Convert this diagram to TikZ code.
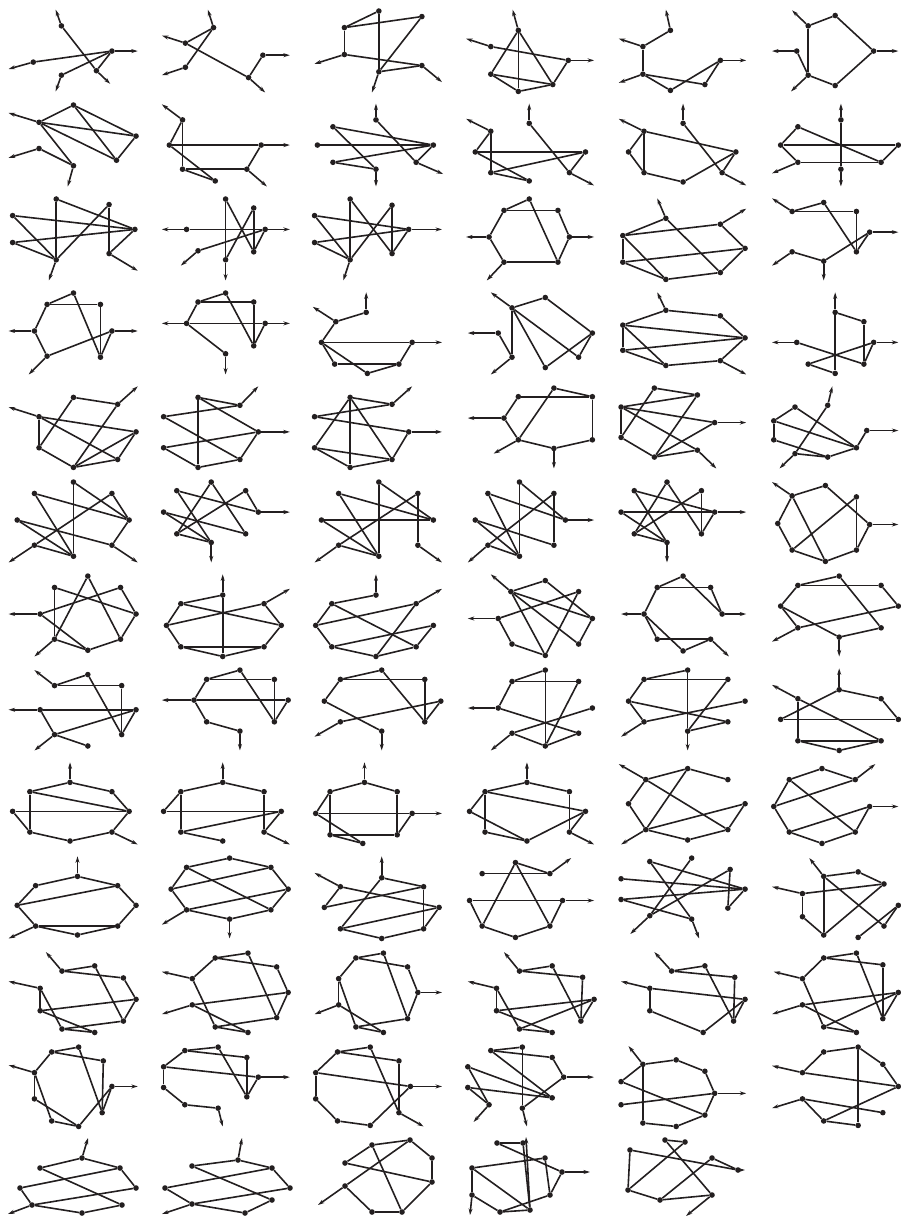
\documentclass[tikz,border=0pt]{standalone}
\usetikzlibrary{arrows.meta}
\definecolor{ink}{RGB}{35,31,32}
\tikzset{vtx/.style={circle,fill=ink,inner sep=0pt,minimum size=5.6pt},
 ln/.style={draw=ink,line width=1.6pt},
 arr/.style={-{Stealth[length=6.5pt,width=4pt]}}}
\newcommand{\gr}[4]{%
  \foreach \n/\px/\py in {#2}{\node[vtx] (#1\n) at (\px,\py) {};}%
  \foreach \u/\v in {#3}{\draw[ln] (#1\u) -- (#1\v);}%
  \foreach \u/\px/\py [count=\k] in {#4}{\coordinate (#1t\k) at (\px,\py); \draw[ln,arr] (#1\u) -- (#1t\k);}%
}
\begin{document}
\begin{tikzpicture}
\useasboundingbox (0,0) rectangle (900pt,-1220pt);
% row 1
\begin{scope}[shift={(0pt,0pt)},x=0.574pt,y=-0.345pt]
\gr{ra}{A/107/75,B/195/148,C/58/180,D/168/205,E/107/218}{A/D,C/B,B/D,B/E}{A/97/28,B/240/148,C/15/200,D/192/243,E/97/265}
\gr{rb}{P/372/80,Q/323/125,R/323/195,S/433/225,T/458/160}{P/Q,P/R,Q/S,S/T}{P/362/28,Q/282/103,R/282/218,S/462/268,T/505/160}
\gr{rc}{A/660/32,B/735/48,C/600/80,D/600/158,E/735/190,F/660/208}{C/A,C/B,C/D,A/F,B/F,D/E,E/F}{D/548/185,F/648/268,E/770/238}
\gr{rd}{A/903/88,B/855/135,C/990/175,D/855/215,E/963/245,F/903/265}{A/D,A/E,A/F,B/C,C/E,D/E,D/F,F/E}{A/893/28,B/812/112,C/1035/175}
\gr{re}{A/1168/88,B/1120/135,C/1120/215,D/1168/262,E/1228/245,F/1255/175}{A/B,B/C,C/D,C/E,D/F,E/F}{A/1160/28,B/1078/112,C/1078/240,F/1300/175}
\gr{rf}{A/1408/75,B/1455/45,C/1522/148,D/1388/148,E/1408/218,F/1455/248}{A/B,B/C,C/F,F/E,E/D,A/E}{A/1380/30,C/1565/148,D/1345/148,E/1378/265}
\end{scope}
% row 2
\begin{scope}[shift={(0pt,-94pt)},x=0.574pt,y=-0.345pt]
\gr{sa}{A/128/32,B/68/82,C/237/122,D/203/192,E/68/158,F/128/208}{B/A,A/C,A/D,B/C,B/D,C/D,B/F,E/F}{B/15/55,E/15/185,F/118/268}
\gr{sb}{A/318/75,B/295/148,C/455/148,D/318/218,E/430/218,F/375/252}{A/B,A/D,B/C,C/E,D/E,D/F,B/F}{A/282/30,C/505/148,E/465/268}
\gr{sc}{A/655/75,B/580/95,C/755/148,D/553/148,E/580/198,F/655/218,G/725/198}{B/C,D/C,E/C,E/F,B/F,A/G,G/C}{A/655/28,F/655/268,G/772/232}
\gr{sd}{A/855/108,B/922/85,C/828/168,D/1020/168,E/855/228,F/922/252,G/992/228}{A/C,A/E,C/D,E/D,E/F,C/F,B/G,G/D}{A/812/72,B/922/28,G/1035/265}
\gr{se}{A/1122/108,B/1190/85,C/1282/168,D/1095/168,E/1122/228,F/1190/255,G/1258/228}{A/C,A/D,A/E,D/E,E/F,F/C,B/G,G/C}{A/1078/72,B/1190/28,G/1300/265}
\gr{sf}{A/1390/95,B/1465/75,C/1360/148,D/1565/148,E/1390/198,F/1535/198,G/1465/218}{A/C,A/F,C/D,D/F,E/F,E/C,B/G}{B/1465/28,G/1465/268,E/1345/230}
\end{scope}
% row 3
\begin{scope}[shift={(0pt,-188pt)},x=0.574pt,y=-0.345pt]
\gr{ta}{A/98/32,B/190/48,C/22/80,D/235/120,E/22/158,F/98/208,G/190/190}{A/D,A/F,C/D,C/F,E/D,E/F,B/F,B/G,G/D}{G/240/240,F/85/268}
\gr{tb}{A/393/32,B/442/58,C/325/120,D/462/120,E/442/185,F/393/208,G/345/182}{C/D,A/F,A/E,B/F,B/E,G/D,E/D}{C/282/120,D/505/120,F/393/268,G/315/225}
\gr{tc}{A/610/32,B/683/50,C/548/80,D/712/120,E/548/158,F/610/208,G/683/190}{A/F,A/G,B/G,B/F,C/D,C/F,E/D,E/F,G/D}{D/770/120,F/598/268}
\gr{td}{A/922/32,B/878/65,C/972/65,D/852/142,E/992/142,F/878/215,G/972/215}{A/B,B/C,B/D,D/F,F/G,G/E,C/E,A/G}{D/812/142,E/1035/142,F/848/268}
\gr{te}{A/1160/88,B/1085/138,C/1255/105,D/1298/175,E/1085/215,F/1255/245,G/1160/265}{A/B,B/C,A/F,C/D,D/F,E/D,B/E,B/G,E/G,G/F}{A/1145/30,C/1300/60}
\gr{tf}{A/1380/68,B/1435/42,C/1492/68,D/1515/128,E/1492/185,F/1435/212,G/1380/185}{A/B,A/C,B/E,C/E,D/E,D/F,F/G}{A/1345/30,D/1565/128,F/1435/268,G/1345/225}
\end{scope}
% row 4
\begin{scope}[shift={(0pt,-282pt)},x=0.574pt,y=-0.345pt]
\gr{ua}{A/128/32,B/82/65,C/175/65,D/60/142,E/195/142,F/82/215,G/175/218}{A/B,B/C,B/D,D/F,C/G,A/G,F/E,E/G}{D/15/142,E/240/142,F/50/268}
\gr{ub}{A/393/32,B/345/58,C/442/58,D/325/120,E/462/120,F/442/185,G/393/208}{A/B,B/C,B/D,D/E,C/F,A/F,F/E,D/G}{D/282/120,E/505/120,G/393/268}
\gr{uc}{A/638/88,B/585/115,C/560/175,D/718/175,E/583/238,F/695/238,G/640/265}{A/B,B/C,C/D,C/E,C/G,E/F,F/D,F/G}{A/638/30,B/545/72,D/770/175}
\gr{ud}{A/892/75,B/950/45,C/1032/148,D/868/148,E/892/218,F/950/248,G/1008/218}{A/B,B/C,A/E,D/E,A/F,A/G,C/G,C/F}{A/855/30,D/815/148,E/855/268}
\gr{ue}{A/1160/82,B/1255/98,C/1085/125,D/1298/162,E/1085/198,F/1160/242,G/1255/228}{A/B,A/C,B/D,C/D,E/D,C/E,C/F,E/F,F/G,G/D}{A/1145/30,G/1300/268}
\gr{uf}{A/1455/88,B/1505/115,C/1388/175,D/1522/175,E/1408/238,F/1505/238,G/1455/265}{A/B,B/F,C/F,D/E,D/F,E/G,A/G}{A/1455/30,C/1345/175,D/1565/175}
\end{scope}
% row 5
\begin{scope}[shift={(0pt,-376pt)},x=0.574pt,y=-0.345pt]
\gr{va}{A/128/62,B/205/82,C/68/118,D/237/162,E/68/208,F/128/265,G/205/242}{A/B,A/E,B/F,C/D,C/E,C/G,E/F,F/G,F/D,G/D}{B/240/30,C/15/90}
\gr{vb}{A/345/62,B/418/85,C/285/118,D/450/162,E/285/208,F/345/265,G/418/242}{A/B,A/F,A/D,C/B,C/G,E/D,E/F,F/G,G/D}{B/450/30,D/505/162}
\gr{vc}{A/610/62,B/683/82,C/548/118,D/712/162,E/548/208,F/610/265,G/683/242}{A/B,C/B,A/F,A/G,C/D,A/E,E/G,E/F,F/G,G/D}{B/718/30,D/770/162}
\gr{vd}{A/965/35,B/1032/60,C/903/60,D/878/122,E/903/185,F/965/210,G/1032/185}{A/B,C/B,B/G,C/D,D/E,E/F,F/G,A/E}{D/815/122,E/860/225,F/965/268}
\gr{ve}{A/1140/35,B/1215/55,C/1082/90,D/1245/135,E/1082/178,F/1140/235,G/1215/215}{A/B,A/E,C/B,C/D,C/E,C/G,B/F,E/F,F/G,F/D}{D/1300/135,G/1248/268}
\gr{vf}{A/1385/90,B/1442/85,C/1348/130,D/1510/158,E/1348/185,F/1492/208,G/1385/225,H/1442/235}{A/F,A/C,C/F,C/E,E/H,G/H,B/G,D/F,H/F}{B/1450/30,G/1358/268,D/1565/158}
\end{scope}
% row 6
\begin{scope}[shift={(0pt,-470pt)},x=0.574pt,y=-0.345pt]
\gr{wa}{A/128/35,B/60/68,C/195/68,D/225/145,E/30/145,F/60/218,G/128/250,H/195/218}{A/G,A/D,B/D,B/G,C/D,C/F,E/H,E/G,F/G,H/D}{F/15/268,H/240/268}
\gr{wb}{A/368/35,B/308/60,C/428/60,D/450/122,E/285/122,F/308/185,G/368/210,H/428/185}{A/F,A/H,B/D,B/G,C/D,C/F,E/H,E/G,F/G}{D/505/122,G/368/268}
\gr{wc}{A/660/35,B/590/68,C/728/68,D/755/145,E/560/145,F/590/218,G/660/250,H/728/218}{A/G,A/D,B/D,B/G,C/F,C/H,E/D,E/G,F/G}{F/548/268,H/770/268}
\gr{wd}{A/905/35,B/850/68,C/965/68,D/985/145,E/828/145,F/850/218,G/905/250,H/965/218}{A/G,A/D,B/D,B/G,C/F,C/H,E/H,E/G,F/G}{D/1035/145,F/815/268}
\gr{we}{A/1162/35,B/1105/60,C/1222/60,D/1245/122,E/1082/122,F/1105/185,G/1162/210,H/1222/185}{A/F,A/H,B/D,B/G,C/F,C/H,E/D,E/G,F/G,H/D}{D/1300/122,G/1162/268}
\gr{wf}{A/1380/75,B/1438/45,C/1492/78,D/1515/158,E/1355/155,F/1380/232,G/1438/265,H/1492/232}{A/B,A/E,A/G,B/D,C/F,C/H,E/F,F/G,G/H,H/D}{A/1345/35,D/1565/158}
\end{scope}
% row 7
\begin{scope}[shift={(0pt,-564pt)},x=0.574pt,y=-0.345pt]
\gr{xa}{A/153/35,B/95/68,C/210/68,D/70/145,E/237/145,F/95/218,G/153/250,H/210/218}{A/F,A/H,B/E,B/F,C/D,C/E,D/G,F/G,G/H,H/E}{D/15/145,F/60/268}
\gr{xb}{A/388/90,B/315/115,C/460/115,D/290/178,E/490/178,F/315/240,G/460/240,H/388/268}{A/B,A/H,B/E,D/C,D/B,D/F,E/G,F/G,F/H,G/H,C/E}{A/388/30,C/505/72}
\gr{xc}{A/655/90,B/578/115,C/725/115,D/550/178,E/755/178,F/578/240,G/725/240,H/655/268}{A/B,B/G,D/C,F/E,C/H,D/B,D/F,F/H,H/G,G/E}{A/655/30,C/770/72}
\gr{xd}{A/890/80,B/950/48,C/1008/80,D/1032/158,E/868/158,F/892/232,G/950/265,H/1008/232}{A/B,B/D,A/D,A/H,A/G,C/E,C/G,D/H,E/F,F/G}{A/855/30,E/815/158}
\gr{xe}{A/1190/35,B/1145/68,C/1238/68,D/1122/145,E/1258/145,F/1145/218,G/1190/252,H/1238/218}{A/B,B/C,A/E,C/E,B/D,D/F,F/H,D/G,G/H}{D/1082/145,E/1300/145,H/1270/268}
\gr{xf}{A/1462/35,B/1390/62,C/1535/62,D/1360/122,E/1565/122,F/1390/185,G/1462/212,H/1535/185}{A/B,B/C,A/H,B/D,D/G,D/F,F/E,C/E,G/H}{F/1345/225,G/1462/268}
\end{scope}
% row 8
\begin{scope}[shift={(0pt,-658pt)},x=0.574pt,y=-0.345pt]
\gr{ya}{A/153/48,B/95/80,C/212/80,D/70/150,E/237/150,F/95/222,G/153/255,H/212/222}{A/B,B/C,A/H,C/H,D/E,D/F,F/E,F/G,H/E}{B/60/35,D/15/150,F/60/268}
\gr{yb}{A/418/35,B/360/62,C/478/62,D/338/122,E/502/122,F/360/185,G/418/212,H/478/185}{A/B,B/C,A/H,C/H,B/D,D/E,D/F,F/G,E/H}{D/282/122,G/418/268}
\gr{yc}{A/665/35,B/593/62,C/740/62,D/565/125,E/768/125,F/593/185,G/665/212,H/740/185}{A/B,B/C,B/D,A/H,C/H,D/G,F/E,E/H}{F/548/228,G/665/268}
\gr{yd}{A/950/35,B/892/68,C/1008/68,D/868/145,E/1032/145,F/892/218,G/950/255,H/1008/218}{A/B,B/C,A/G,C/G,B/D,D/H,F/E,F/G,G/H}{D/815/145,F/855/268}
\gr{ye}{A/1198/35,B/1122/62,C/1268/62,D/1095/125,E/1298/125,F/1122/185,G/1198/212,H/1268/185}{A/B,B/C,A/G,C/G,B/D,D/H,F/E,D/F,G/H}{F/1082/228,G/1198/268}
\gr{yf}{A/1462/92,B/1390/118,C/1535/118,D/1360/178,E/1565/178,F/1390/240,G/1535/240,H/1462/268}{A/C,A/D,C/E,D/E,B/F,B/G,F/G,F/H,H/G}{A/1462/30,B/1345/78}
\end{scope}
% row 9
\begin{scope}[shift={(0pt,-752pt)},x=0.574pt,y=-0.345pt]
\gr{za}{A/122/88,B/52/115,C/195/115,D/22/172,E/225/172,F/52/232,G/195/232,H/122/258}{A/B,A/C,B/E,B/F,C/E,D/E,D/F,F/H,H/G,G/E}{A/122/30,G/240/268}
\gr{zb}{A/388/88,B/315/115,C/460/115,D/285/172,E/490/172,F/315/232,G/460/232,H/388/258}{A/B,A/C,B/F,C/G,D/E,D/B,F/E,F/H,G/E}{A/388/30,G/505/268}
\gr{zc}{A/635/88,B/575/115,C/692/115,D/550/178,E/718/178,F/575/240,G/692/240,H/632/265}{A/B,A/C,B/D,B/F,C/G,D/E,D/H,F/G,F/H,G/E}{A/635/30,E/770/178}
\gr{zd}{A/918/88,B/845/115,C/992/115,D/818/172,E/1020/172,F/845/232,G/992/232,H/918/258}{A/B,A/C,B/E,B/F,C/G,D/B,D/H,F/H,H/E,G/E}{A/918/30,G/1035/268}
\gr{ze}{A/1198/48,B/1125/80,C/1268/80,D/1095/150,E/1298/150,F/1125/225,G/1198/255,H/1268/225}{A/B,A/C,A/F,B/H,D/B,D/F,F/E,E/H,F/G,G/H}{B/1078/35,F/1082/268}
\gr{zf}{A/1432/48,B/1375/80,C/1490/80,D/1348/158,E/1515/158,F/1375/232,G/1432/265,H/1490/232}{A/B,A/C,C/D,B/H,B/D,D/F,F/E,E/H,G/H,F/G}{C/1525/35,E/1565/158}
\end{scope}
% row 10
\begin{scope}[shift={(0pt,-846pt)},x=0.574pt,y=-0.345pt]
\gr{qa}{A/135/88,B/62/115,C/205/115,D/30/172,E/237/172,F/62/232,G/205/232,H/135/258}{A/B,A/C,C/D,B/D,D/F,F/G,F/H,H/G,G/E,C/E}{A/135/30,F/15/268}
\gr{qb}{A/400/35,B/325/62,C/472/62,D/298/125,E/502/125,F/325/185,G/400/212,H/472/185}{A/B,A/C,B/D,C/E,D/F,B/H,C/D,F/E,E/H,F/G,G/H}{F/282/228,G/400/268}
\gr{qc}{A/665/92,B/593/118,C/738/118,D/565/178,E/765/178,F/593/240,G/738/240,H/665/268}{A/C,A/F,B/E,B/D,D/C,C/G,F/E,F/H,H/G,G/E}{A/665/30,B/548/78}
\gr{qd}{A/898/48,B/840/80,C/958/80,D/818/158,E/980/158,F/840/232,G/898/265,H/958/232}{A/C,B/C,A/H,A/F,D/E,D/F,F/G,G/H,H/E}{C/995/35,E/1035/158}
\gr{qe}{A/1205/35,B/1132/45,C/1272/68,D/1082/95,E/1298/125,F/1082/155,G/1268/180,H/1132/202,I/1205/212}{B/E,A/H,B/I,C/H,C/G,D/E,F/E,F/I,G/E}{H/1098/255,I/1218/268}
\gr{qf}{A/1435/88,B/1495/75,C/1398/138,D/1540/110,E/1565/172,F/1398/205,G/1435/258,H/1495/265,I/1540/232}{A/B,B/D,C/D,C/F,F/G,A/G,A/I,G/D,H/E,E/I}{A/1410/35,C/1345/118}
\end{scope}
% row 11
\begin{scope}[shift={(0pt,-940pt)},x=0.574pt,y=-0.345pt]
\gr{ka}{A/108/90,B/165/75,C/215/110,D/70/140,E/237/172,F/70/205,G/215/235,H/108/258,I/165/268}{A/B,A/C,B/G,C/E,D/F,D/H,F/E,F/I,H/I,H/G,E/G}{A/80/35,D/15/120}
\gr{kb}{A/375/52,B/432/38,C/482/78,D/335/112,E/502/152,F/335/188,G/482/225,H/375/252,I/432/268}{A/B,A/C,B/G,C/E,D/A,D/H,F/E,F/I,H/G,H/I,E/G}{D/282/92,F/282/215}
\gr{kc}{A/620/52,B/668/38,C/710/78,D/590/112,E/728/152,F/590/188,G/710/228,H/620/252,I/668/268}{A/B,A/C,B/G,C/E,D/A,D/F,D/H,F/I,H/G,H/I,E/G}{E/770/152,F/548/215}
\gr{kd}{A/905/90,B/962/75,C/1015/108,D/865/140,E/1035/172,F/865/205,G/1012/235,H/905/258,I/962/268}{A/B,A/C,B/G,C/G,D/F,D/H,F/E,F/I,H/I,H/E,G/E}{A/878/35,D/815/120}
\gr{ke}{A/1170/90,B/1228/75,C/1280/108,D/1132/140,E/1298/172,F/1132/205,G/1278/235,H/1225/268}{A/B,A/C,D/E,D/F,B/G,C/G,F/H,H/E,E/G}{A/1140/35,D/1082/120}
\gr{kf}{A/1435/52,B/1492/38,C/1538/72,D/1398/112,E/1565/152,F/1398/188,G/1538/228,H/1435/252,I/1492/268}{A/B,A/C,B/G,C/G,D/A,F/E,D/H,H/E,H/I,G/E,F/I}{D/1348/92,F/1345/215}
\end{scope}
% row 12
\begin{scope}[shift={(0pt,-1034pt)},x=0.574pt,y=-0.345pt]
\gr{ma}{A/90/52,B/137/38,C/180/78,D/60/112,E/195/152,F/60/188,G/178/228,H/90/252,I/137/268}{A/B,A/C,A/D,B/G,C/G,D/F,D/H,F/I,H/I,I/E,E/G}{D/15/90,E/240/152}
\gr{mb}{A/322/48,B/380/38,C/430/68,D/285/95,E/450/125,F/285/155,G/430/182,H/322/205,I/380/215}{A/B,A/C,A/D,B/G,C/G,D/E,D/F,F/H,H/I,G/E}{E/505/125,I/388/268}
\gr{mc}{A/588/52,B/645/38,C/695/78,D/550/112,E/715/152,F/550/188,G/695/228,H/588/252,I/645/265}{A/B,A/C,A/D,B/G,C/G,D/E,D/F,F/H,H/I,I/E}{E/770/152,G/738/268}
\gr{md}{A/855/48,B/910/38,C/962/68,D/815/95,E/982/125,F/815/155,G/962/185,H/852/205,I/910/215}{A/B,A/C,A/G,B/I,C/E,D/G,D/H,F/G,F/H,I/E}{E/1035/125,H/825/255,I/918/268}
\gr{me}{A/1120/88,B/1178/75,C/1228/108,D/1082/138,E/1245/172,F/1082/205,G/1228/235,H/1120/258,I/1178/268}{A/B,B/C,A/H,C/E,D/A,D/G,F/E,E/G,G/I,H/I}{A/1095/35,E/1300/172}
\gr{mf}{A/1435/52,B/1495/38,C/1538/88,D/1398/112,E/1565/152,F/1398/188,G/1538/228,H/1435/252,I/1495/265}{A/B,B/C,B/I,A/D,D/E,F/G,F/H,H/E,E/C,H/I}{D/1345/92,F/1345/215}
\end{scope}
% row 13 (image pixel coordinates)
\begin{scope}[x=1pt,y=-1pt]
\gr{na}{A/82/1158,B/40/1168,C/120/1168,D/20/1188,E/136/1188,F/32/1205,G/82/1213,H/122/1205}{A/B,A/C,C/E,B/H,C/D,D/F,F/G,G/H,E/F}{A/88/1138,F/8/1214}
\gr{nb}{A/238/1160,B/192/1166,C/272/1168,D/165/1188,E/290/1188,F/192/1204,G/245/1213,H/272/1200}{A/B,A/C,C/E,B/H,C/D,D/F,F/G,G/H,E/F}{A/242/1138,F/162/1214}
\gr{nc}{A/372/1145,B/410/1140,C/432/1158,D/345/1163,E/432/1182,F/345/1186,G/402/1212,H/372/1212}{A/B,B/C,C/E,A/D,D/E,A/G,B/F,F/H,H/G,E/G}{F/318/1205}
\gr{nd}{A/497/1143,B/523/1143,C/545/1158,D/472/1168,E/562/1172,F/472/1195,G/500/1212,H/530/1210,I/550/1195}{A/B,A/E,B/H,C/D,C/I,D/F,F/G,G/H,D/H,E/I,G/I}{E/590/1172,H/526/1137,F/470/1215}
\gr{ne}{A/665/1140,B/685/1142,C/630/1150,D/712/1158,E/738/1170,F/628/1190,G/660/1200,H/712/1195}{A/B,A/H,B/F,C/E,C/F,D/E,D/G,F/G,G/H}{E/745/1170,H/686/1216}
\end{scope}
\end{tikzpicture}
\end{document}
